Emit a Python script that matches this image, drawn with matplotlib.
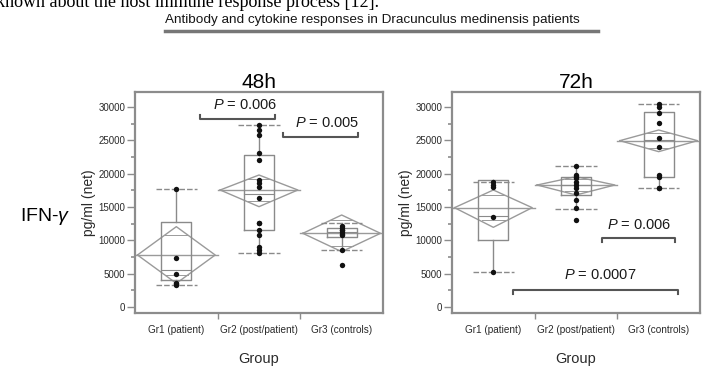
import numpy as np
import matplotlib
matplotlib.use("Agg")
import matplotlib.pyplot as plt

plt.rcParams['font.family'] = ['Liberation Sans', 'DejaVu Sans']
plt.rcParams['mathtext.fontset'] = 'custom'
plt.rcParams['mathtext.it'] = 'Liberation Sans:italic'
plt.rcParams['mathtext.rm'] = 'Liberation Sans'

### data
groups = ["Gr1 (patient)", "Gr2 (post/patient)", "Gr3 (controls)"]
panels = ["48h", "72h"]

# individual responses, pg/ml (net)
pts_48 = [
    [17650, 7300, 4950, 3550, 3300, 3400],
    [27300, 26500, 25800, 23100, 22000, 19050, 18600, 18000, 16350,
     12600, 12600, 11550, 10800, 9000, 8550, 8050],
    [12200, 11800, 11600, 11500, 11300, 11000, 10800, 8550, 6300],
]
pts_72 = [
    [18800, 18300, 18050, 13550, 5300],
    [21200, 19800, 19500, 19300, 18800, 18300, 17800, 17050, 16050,
     14800, 13050],
    [30450, 29950, 29050, 27550, 25300, 24050, 19800, 19450, 17900, 17800],
]

# box plot stats: whisker low, q1, median, q3, whisker high
box_48 = [
    [3300, 4050, 5550, 12800, 17650],
    [8050, 11550, 17000, 22800, 27300],
    [8550, 10500, 11300, 11900, 12600],
]
box_72 = [
    [5300, 10050, 13600, 19050, 18800],
    [14700, 16800, 18300, 19550, 21200],
    [17900, 19550, 25000, 29300, 30450],
]

# means diamonds: mean, lower 95%, upper 95%
dia_48 = [
    [7800, 3550, 12050],
    [17550, 15050, 19800],
    [11050, 8300, 13800],
]
dia_72 = [
    [14900, 11950, 17550],
    [18300, 16800, 19550],
    [24950, 23300, 26550],
]

# significance brackets: (x0, x1, y, text, text_x, text_y, direction)
sig_48 = [
    (0.29, 1.19, 28150, "0.006", 0.83, 29300, -1),
    (1.29, 2.20, 25550, "0.005", 1.82, 26500, -1),
]
sig_72 = [
    (1.31, 2.20, 10300, "0.006", 1.77, 11300, 1),
    (0.24, 2.23, 2550, "0.0007", 1.29, 3700, 1),
]

W, H = 708, 367
fig = plt.figure(figsize=(W / 100, H / 100), dpi=100)


def px_axes(x0, y0, x1, y1):
    return fig.add_axes([x0 / W, 1 - y1 / H, (x1 - x0) / W, (y1 - y0) / H])


frame_col = "#8c8c8c"
dia_col = "#9a9a9a"
box_col = "#8a8a8a"
txt_col = "#2a2a2a"


def draw_panel(ax, pts, box, dia, sig, title):
    ax.set_xlim(-0.5, 2.5)
    ax.set_ylim(-900, 32250)
    for i in range(3):
        # means diamond
        m, lo, hi = dia[i]
        hw = 0.47
        ax.plot([i - hw, i, i + hw, i, i - hw], [m, hi, m, lo, m],
                color=dia_col, lw=1.0, zorder=2)
        ax.plot([i - 0.5, i + 0.5], [m, m], color=dia_col, lw=1.0, zorder=2)
        ov = (hi - m) / np.sqrt(2)
        for yy in (m + ov, m - ov):
            f = 1 - ov / (hi - m)
            ax.plot([i - hw * f, i + hw * f], [yy, yy], color=dia_col,
                    lw=0.7, zorder=2)
        # box plot
        wl, q1, md, q3, wh = box[i]
        bw = 0.18
        ax.plot([i - bw, i + bw, i + bw, i - bw, i - bw], [q1, q1, q3, q3, q1],
                color=box_col, lw=1.0, zorder=3)
        ax.plot([i - bw, i + bw], [md, md], color=box_col, lw=0.8, zorder=3)
        ax.plot([i, i], [q3, wh], color=box_col, lw=1.0, zorder=3)
        ax.plot([i, i], [wl, q1], color=box_col, lw=1.0, zorder=3)
        for yy in (wl, wh):
            ax.plot([i - 0.25, i + 0.25], [yy, yy], color=box_col, lw=1.0,
                    ls=(0, (4, 1.5)), zorder=3)
        # points
        ax.scatter(np.full(len(pts[i]), i), pts[i], s=15, color="#111111",
                   zorder=5, linewidths=0)
    # significance brackets
    for x0, x1, y, txt, tx, ty, d in sig:
        h = 600 * (-d)
        ax.plot([x0, x0, x1, x1], [y + h, y, y, y + h], color="#555555",
                lw=1.5, zorder=4)
        ax.text(tx, ty, r"$P$ = " + txt, ha="center", va="bottom",
                fontsize=10.5, color="#1a1a1a")

    for s in ax.spines.values():
        s.set_color(frame_col)
        s.set_linewidth(1.6)
    ax.set_yticks(np.arange(0, 30001, 5000))
    ax.set_yticks(np.arange(2500, 30000, 5000), minor=True)
    ax.tick_params(axis="y", which="major", labelsize=7, length=6,
                   width=1.0, color=frame_col, pad=1, labelcolor=txt_col)
    ax.tick_params(axis="y", which="minor", length=3, width=1.2,
                   color=frame_col)
    ax.set_xticks([0.5, 1.5])
    ax.set_xticklabels([])
    ax.tick_params(axis="x", length=4, width=1.0, color=frame_col)
    for i, g in enumerate(groups):
        ax.text(i, -3400, g, ha="center", va="center", fontsize=7.2,
                color=txt_col)
    ax.text(1, -7800, "Group", ha="center", va="center", fontsize=10.5,
            color=txt_col)
    ax.set_ylabel("pg/ml (net)", fontsize=10, color=txt_col, labelpad=2)
    ax.set_title(title, fontsize=15, pad=3)


ax1 = px_axes(135, 92, 383, 313)
ax2 = px_axes(452, 92, 700, 313)
draw_panel(ax1, pts_48, box_48, dia_48, sig_48, panels[0])
draw_panel(ax2, pts_72, box_72, dia_72, sig_72, panels[1])

fig.text(20 / W, 1 - 217 / H, r"IFN-$\gamma$", fontsize=14, va="center",
         ha="left")

# page fragments around the figure
fig.text(-0.005, 1 - 7 / H, "known about the host immune response process [12].",
         fontsize=13, family="Liberation Serif", va="baseline", ha="left")
fig.text(165 / W, 1 - 20 / H,
         "Antibody and cytokine responses in Dracunculus medinensis patients",
         fontsize=9.7, va="center", ha="left", color="#151515")
fig.add_artist(plt.Line2D([165 / W, 598 / W], [1 - 31 / H, 1 - 31 / H],
                          color="#777777", lw=2.5))

fig.savefig("out.png", dpi=100)
